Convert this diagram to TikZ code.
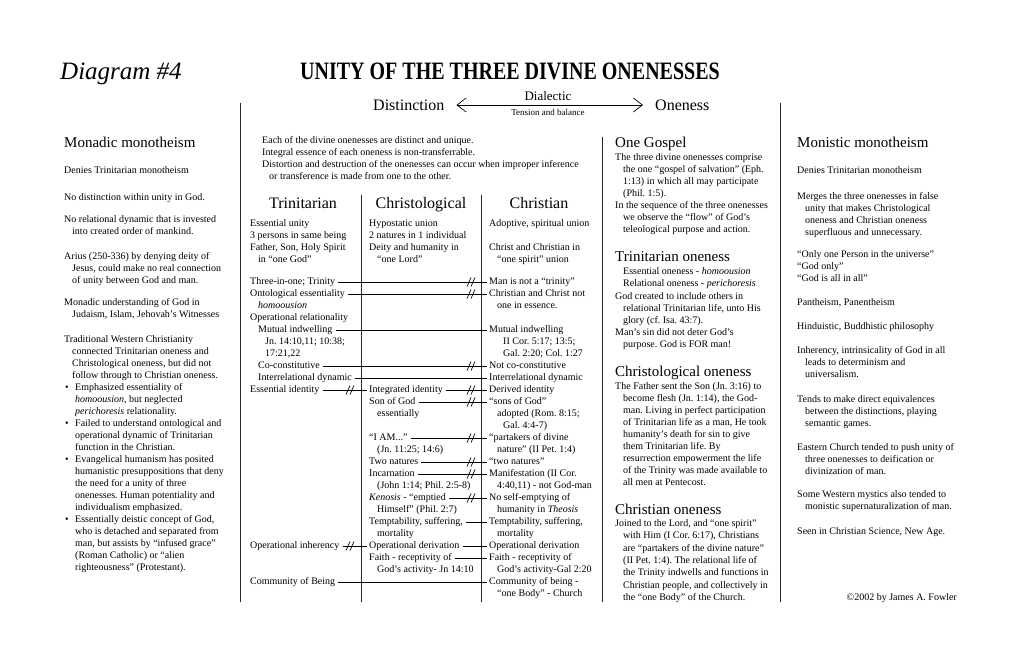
\documentclass[tikz,border=0pt]{standalone}
\usepackage{fontspec}
\usepackage{graphicx}
\setmainfont{Liberation Serif}
\usetikzlibrary{arrows.meta,calc}
\frenchspacing
\newcommand\hi{\hangindent=8pt\hangafter=1\relax}
\newcommand\blk[5]{\node (#1) at (#2,#3) {\parbox[t]{420pt}{\frenchspacing\fontsize{10}{#4}\selectfont #5}};}
\newcommand\T[4]{\node[sm] (#1) at (#2,{284.5+12.0*#3}) {#4};}
\begin{document}
\begin{tikzpicture}[x=1pt,y=-1pt,
  every node/.style={inner sep=0pt, anchor=base west},
  sm/.style={font=\fontsize{10}{12}\selectfont, text height=7pt, text depth=2pt},
  hd/.style={font=\fontsize{15}{18}\selectfont},
  colhd/.style={font=\fontsize{16}{19}\selectfont, anchor=base},
  conn/.style={line width=0.8pt, shorten <=3pt, shorten >=2pt},
  vline/.style={line width=1pt, draw=black!85},
  brk/.pic={\draw[line width=0.7pt] (-4,4.5) -- (0,-4.5) (0,4.5) -- (4,-4.5);}
]
\useasboundingbox[fill=white] (0,0) rectangle (1020,660);

% title
\node (diag) at (60,80) {\fontsize{25}{28}\selectfont\itshape Diagram \#4};
\node[anchor=base] (title) at (510,80) {\fontsize{25}{28}\selectfont\bfseries\scalebox{0.80}[1]{UNITY OF THE THREE DIVINE ONENESSES}};
\node[font=\fontsize{16}{19}\selectfont, text height=11pt, text depth=0pt] (dist) at (373,110.5) {Distinction};
\node[font=\fontsize{16}{19}\selectfont, text height=11pt, text depth=0pt] (one) at (655,110.5) {Oneness};
\node[font=\fontsize{13}{15}\selectfont, anchor=base] (dia) at (548,101) {Dialectic};
\node[font=\fontsize{9}{10}\selectfont, anchor=base] (ten) at (548,116) {Tension and balance};
\draw[line width=0.7pt, {Straight Barb[length=9pt,width=14pt]}-{Straight Barb[length=9pt,width=14pt]}, shorten <=12pt, shorten >=12pt] (dist.east) -- (one.west);

% vertical rules
\draw[vline] (240,103) -- (240,602);
\draw[vline] (780,103) -- (780,602);
\draw[vline] (602,137) -- (602,602);
\draw[vline] (361,195) -- (361,602);
\draw[vline] (481,195) -- (481,602);

% left column
\node[hd] (lhd) at (64,148) {Monadic monotheism};
\blk{l1}{64}{173.5}{12}{Denies Trinitarian monotheism}
\blk{l2}{64}{200.5}{12}{No distinction within unity in God.}
\blk{l3}{64}{222.5}{12}{\hi No relational dynamic that is invested\\into created order of mankind.}
\blk{l4}{64}{259.5}{12}{\hi Arius (250-336) by denying deity of\\Jesus, could make no real connection\\of unity between God and man.}
\blk{l5}{64}{306}{12}{\hi Monadic understanding of God in\\Judaism, Islam, Jehovah’s Witnesses}
\blk{l6}{64}{342.5}{12}{\hi Traditional Western Christianity\\connected Trinitarian oneness and\\Christological oneness, but did not\\follow through to Christian oneness.}
\node[sm] (bu1) at (65,390.5) {•};
\blk{l7}{75}{390.5}{12}{Emphasized essentiality of\\\textit{homoousion}, but neglected\\\textit{perichoresis} relationality.}
\node[sm] (bu2) at (65,426.5) {•};
\blk{l8}{75}{426.5}{12}{Failed to understand ontological and\\operational dynamic of Trinitarian\\function in the Christian.}
\node[sm] (bu3) at (65,462.5) {•};
\blk{l9}{75}{462.5}{12}{Evangelical humanism has posited\\humanistic presuppositions that deny\\the need for a unity of three\\onenesses. Human potentiality and\\individualism emphasized.}
\node[sm] (bu4) at (65,522.5) {•};
\blk{l10}{75}{522.5}{12}{Essentially deistic concept of God,\\who is detached and separated from\\man, but assists by “infused grace”\\(Roman Catholic) or “alien\\righteousness” (Protestant).}

% middle top
\blk{mt}{262}{143.5}{12}{Each of the divine onenesses are distinct and unique.\par Integral essence of each oneness is non-transferrable.\par\hangindent=7pt\hangafter=1 Distortion and destruction of the onenesses can occur when improper inference\\or transference is made from one to the other.}
\node[colhd] (hT) at (303,209) {Trinitarian};
\node[colhd] (hC) at (421,209) {Christological};
\node[colhd] (hX) at (539,209) {Christian};

\node[sm] (p1) at (250,226.5) {Essential unity};
\node[sm] (p2) at (250,238.5) {3 persons in same being};
\node[sm] (p3) at (250,250.5) {Father, Son, Holy Spirit};
\node[sm] (p4) at (258,262.5) {in “one God”};
\node[sm] (q1) at (369,226.5) {Hypostatic union};
\node[sm] (q2) at (369,238.5) {2 natures in 1 individual};
\node[sm] (q3) at (369,250.5) {Deity and humanity in};
\node[sm] (q4) at (377,262.5) {“one Lord”};
\node[sm] (s1) at (489,226.5) {Adoptive, spiritual union};
\node[sm] (s3) at (489,250.5) {Christ and Christian in};
\node[sm] (s4) at (497,262.5) {“one spirit” union};

% rows
\T{a0}{250}{0}{Three-in-one; Trinity}
\T{b0}{489}{0}{Man is not a “trinity”}
\T{a1}{250}{1}{Ontological essentiality}
\T{b1}{489}{1}{Christian and Christ not}
\T{a2}{258}{2}{\textit{homoousion}}
\T{b2}{497}{2}{one in essence.}
\T{a3}{250}{3}{Operational relationality}
\T{a4}{258}{4}{Mutual indwelling}
\T{b4}{489}{4}{Mutual indwelling}
\T{a5}{265}{5}{Jn. 14:10,11; 10:38;}
\T{b5}{503}{5}{II Cor. 5:17; 13:5;}
\T{a6}{265}{6}{17:21,22}
\T{b6}{503}{6}{Gal. 2:20; Col. 1:27}
\T{a7}{258}{7}{Co-constitutive}
\T{b7}{489}{7}{Not co-constitutive}
\T{a8}{258}{8}{Interrelational dynamic}
\T{b8}{489}{8}{Interrelational dynamic}
\T{a9}{250}{9}{Essential identity}
\T{m9}{369}{9}{Integrated identity}
\T{b9}{489}{9}{Derived identity}
\T{m10}{369}{10}{Son of God}
\T{b10}{489}{10}{“sons of God”}
\T{m11}{377}{11}{essentially}
\T{b11}{497}{11}{adopted (Rom. 8:15;}
\T{b12}{503}{12}{Gal. 4:4-7)}
\T{m13}{369}{13}{“I AM...”}
\T{b13}{489}{13}{“partakers of divine}
\T{m14}{377}{14}{(Jn. 11:25; 14:6)}
\T{b14}{497}{14}{nature” (II Pet. 1:4)}
\T{m15}{369}{15}{Two natures}
\T{b15}{489}{15}{“two natures”}
\T{m16}{369}{16}{Incarnation}
\T{b16}{489}{16}{Manifestation (II Cor.}
\T{m17}{377}{17}{(John 1:14; Phil. 2:5-8)}
\T{b17}{497}{17}{4:40,11) - not God-man}
\T{m18}{369}{18}{\textit{Kenosis} - “emptied}
\T{b18}{489}{18}{No self-emptying of}
\T{m19}{377}{19}{Himself” (Phil. 2:7)}
\T{b19}{497}{19}{humanity in \textit{Theosis}}
\T{m20}{369}{20}{Temptability, suffering,}
\T{b20}{489}{20}{Temptability, suffering,}
\T{m21}{377}{21}{mortality}
\T{b21}{497}{21}{mortality}
\T{a22}{250}{22}{Operational inherency}
\T{m22}{369}{22}{Operational derivation}
\T{b22}{489}{22}{Operational derivation}
\T{m23}{369}{23}{Faith - receptivity of}
\T{b23}{489}{23}{Faith - receptivity of}
\T{m24}{377}{24}{God’s activity- Jn 14:10}
\T{b24}{497}{24}{God’s activity-Gal 2:20}
\T{a25}{250}{25}{Community of Being}
\T{b25}{489}{25}{Community of being -}
\T{b26}{497}{26}{“one Body” - Church}

% connectors
\draw[conn] (a0.east) -- (b0.west);  \pic at (471,0 |- a0.east) {brk};
\draw[conn] (a1.east) -- (b1.west);  \pic at (471,0 |- a1.east) {brk};
\draw[conn] (a4.east) -- (b4.west);
\draw[conn] (a7.east) -- (b7.west);  \pic at (471,0 |- a7.east) {brk};
\draw[conn] (a8.east) -- (b8.west);
\draw[conn] (a9.east) -- (m9.west);  \pic at (350,0 |- a9.east) {brk};
\draw[conn] (m9.east) -- (b9.west);  \pic at (471,0 |- m9.east) {brk};
\draw[conn] (m10.east) -- (b10.west); \pic at (471,0 |- m10.east) {brk};
\draw[conn] (m13.east) -- (b13.west); \pic at (471,0 |- m13.east) {brk};
\draw[conn] (m15.east) -- (b15.west); \pic at (471,0 |- m15.east) {brk};
\draw[conn] (m16.east) -- (b16.west); \pic at (471,0 |- m16.east) {brk};
\draw[conn] (m18.east) -- (b18.west); \pic at (471,0 |- m18.east) {brk};
\draw[conn] (m20.east) -- (b20.west);
\draw[conn] (a22.east) -- (m22.west); \pic at (350,0 |- a22.east) {brk};
\draw[conn] (m22.east) -- (b22.west);
\draw[conn] (m23.east) -- (b23.west);
\draw[conn] (a25.east) -- (b25.west);

% right-middle column
\node[hd] (gos) at (615,148) {One Gospel};
\blk{g1}{615}{160.5}{12}{\hi The three divine onenesses comprise\\the one “gospel of salvation” (Eph.\\1:13) in which all may participate\\(Phil. 1:5).\par\hi In the sequence of the three onenesses\\we observe the “flow” of God’s\\teleological purpose and action.}
\node[hd] (tri) at (615,262) {Trinitarian oneness};
\blk{t1}{623}{274.5}{12}{Essential oneness - \textit{homoousion}\par Relational oneness - \textit{perichoresis}}
\blk{t2}{615}{299.5}{12}{\hi God created to include others in\\relational Trinitarian life, unto His\\glory (cf. Isa. 43:7).\par\hi Man’s sin did not deter God’s\\purpose. God is FOR man!}
\node[hd] (chr) at (615,376) {Christological oneness};
\blk{c1}{615}{389.5}{12}{\hi The Father sent the Son (Jn. 3:16) to\\become flesh (Jn. 1:14), the God-\\man. Living in perfect participation\\of Trinitarian life as a man, He took\\humanity’s death for sin to give\\them Trinitarian life. By\\resurrection empowerment the life\\of the Trinity was made available to\\all men at Pentecost.}
\node[hd] (chn) at (615,514) {Christian oneness};
\blk{n1}{615}{526.5}{12.3}{\hi Joined to the Lord, and “one spirit”\\with Him (I Cor. 6:17), Christians\\are “partakers of the divine nature”\\(II Pet. 1:4). The relational life of\\the Trinity indwells and functions in\\Christian people, and collectively in\\the “one Body” of the Church.}

% right column
\node[hd] (rhd) at (797,148) {Monistic monotheism};
\blk{r1}{797}{173.5}{12}{Denies Trinitarian monotheism}
\blk{r2}{797}{199.5}{12}{\hi Merges the three onenesses in false\\unity that makes Christological\\oneness and Christian oneness\\superfluous and unnecessary.}
\blk{r3}{797}{258}{12}{“Only one Person in the universe”\par “God only”\par “God is all in all”}
\blk{r4}{797}{305.5}{12}{Pantheism, Panentheism}
\blk{r5}{797}{329.5}{12}{Hinduistic, Buddhistic philosophy}
\blk{r6}{797}{353.5}{12}{\hi Inherency, intrinsicality of God in all\\leads to determinism and\\universalism.}
\blk{r7}{797}{402.5}{12}{\hi Tends to make direct equivalences\\between the distinctions, playing\\semantic games.}
\blk{r8}{797}{450.5}{12}{\hi Eastern Church tended to push unity of\\three onenesses to deification or\\divinization of man.}
\blk{r9}{797}{497.5}{12}{\hi Some Western mystics also tended to\\monistic supernaturalization of man.}
\blk{r10}{797}{534.5}{12}{Seen in Christian Science, New Age.}
\node[sm, anchor=base east] (copy) at (957,600.5) {©2002 by James A. Fowler};
\end{tikzpicture}
\end{document}
